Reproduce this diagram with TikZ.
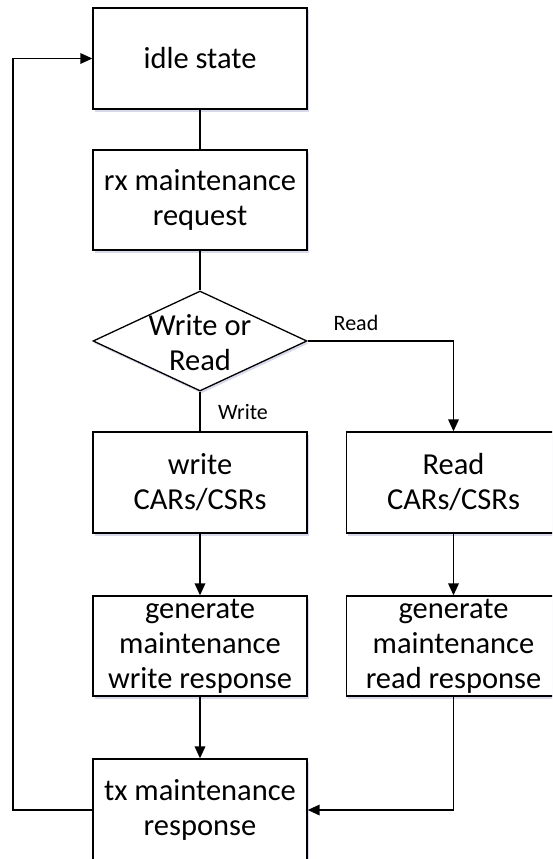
\documentclass[tikz,border=0pt]{standalone}
\usepackage{fontspec}
\setmainfont{Carlito}
\usetikzlibrary{shapes.geometric,arrows.meta,shadows}
\begin{document}
\begin{tikzpicture}[x=1pt,y=-1pt,
  softshadow/.style={drop shadow={shadow xshift=1.5pt,shadow yshift=-2.5pt,
    fill=blue!35!gray,opacity=0.22}},
  stepbox/.style={draw=black,fill=white,line width=1.3pt,rectangle,minimum width=214pt,
    minimum height=101pt,inner sep=0pt,align=center,softshadow,
    font=\fontsize{30.5}{35}\selectfont},
  decision/.style={draw=black,fill=white,line width=1.3pt,diamond,minimum width=214pt,
    minimum height=100pt,inner sep=0pt,softshadow},
  dectext/.style={inner sep=0pt,align=center,font=\fontsize{30.5}{35}\selectfont},
  edgetext/.style={inner sep=0pt,font=\fontsize{22}{26}\selectfont},
  link/.style={line width=1.8pt},
  arr/.style={line width=1.8pt,-{Triangle[length=12pt,width=10.5pt]}}]
\useasboundingbox (0,0) rectangle (552,859);
\fill[white] (0,0) rectangle (552,859);
\clip (0,0) rectangle (552,859);

% flow boxes
\node[stepbox] (idle) at (200,58.5) {idle state};
\node[stepbox,minimum height=100pt] (rx) at (200,200) {rx maintenance\\request};
\node[decision] (dec) at (200,341) {};
\node[dectext] (dect) at (200,343) {Write or\\Read};
\node[stepbox] (wr) at (200,482.5) {write\\CARs/CSRs};
\node[stepbox] (rd) at (453.5,482.5) {Read\\CARs/CSRs};
\node[stepbox,minimum height=100pt] (gw) at (200,646) {generate\\maintenance\\write response};
\node[stepbox,minimum height=100pt] (gr) at (453.5,646) {generate\\maintenance\\read response};
\node[stepbox,minimum height=102pt] (tx) at (200,810) {tx maintenance\\response};
\coordinate (loopx) at (13,0);

% connectors
\draw[link] (idle.south) -- (rx.north);
\draw[link] (rx.south) -- (dec.north);
\draw[link] (dec.south) -- (wr.north);
\draw[arr] (dec.east) -| (rd.north);
\draw[arr] (wr.south) -- (gw.north);
\draw[arr] (rd.south) -- (gr.north);
\draw[arr] (gw.south) -- (tx.north);
\draw[arr] (gr.south) |- (tx.east);
\draw[arr] (tx.west) -- (tx.west -| loopx) |- (idle.west);

% branch labels
\node[edgetext] (lwrite) at (243,412) {Write};
\node[edgetext] (lread) at (356,323) {Read};
\end{tikzpicture}
\end{document}
